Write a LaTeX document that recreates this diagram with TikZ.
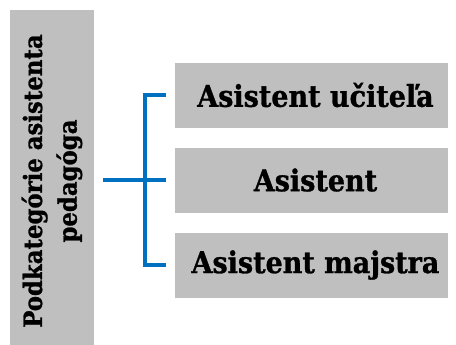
\documentclass[tikz,border=0pt]{standalone}
\usepackage{fontspec}
\setmainfont{DejaVu Serif Condensed}[BoldFeatures={FakeBold=1}]
\usepackage{tikz}
\usetikzlibrary{calc}
\definecolor{boxgray}{RGB}{191,191,191}
\definecolor{linkblue}{RGB}{0,112,192}

\begin{document}
\begin{tikzpicture}[x=0.75pt, y=-0.75pt]
      \tikzset{
        cat/.style={rectangle, fill=boxgray, rotate=90, align=center, inner sep=0pt,
          minimum width=256.5pt, minimum height=63pt, font=\bfseries\fontsize{19}{26}\selectfont},
        item/.style={rectangle, fill=boxgray, inner sep=0pt, minimum width=204.75pt,
          minimum height=48.75pt, node distance=63.75pt, font=\bfseries\fontsize{22.5}{24}\selectfont,
          execute at begin node=\hspace*{6pt}},
        line/.style={draw, linkblue, line width=3pt},
      }
      \useasboundingbox (0,0) rectangle (456,344);
      \node [cat] (kat) at (52,181) {Podkategórie asistenta\\pedagóga};
      \node [item] (ucitel) at (311.5,95) {Asistent učiteľa};
      \node [item, below of=ucitel] (asist) {Asistent};
      \node [item, below of=asist] (majster) {Asistent majstra};

      \coordinate (split) at ($(ucitel.west)+(-30,0)$);

      \path [line] ($(kat.south |- asist.west)+(9,0)$) -- ($(asist.west)+(-9,0)$);
      \path [line] ($(ucitel.west)+(-9,0)$) -| (split) |- ($(majster.west)+(-9,0)$);
      \end{tikzpicture}
\end{document}
